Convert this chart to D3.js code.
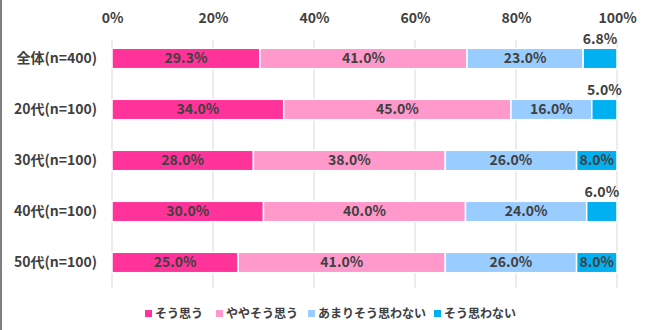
<!DOCTYPE html>
<html><head><meta charset="utf-8">
<script src="https://cdn.jsdelivr.net/npm/d3@7"></script>
<style>
body{margin:0;background:#fff;}
svg text{font-family:"Noto Sans CJK JP","Noto Sans",sans-serif;font-weight:bold;fill:#404040;}
</style></head>
<body><svg id="c" width="650" height="330"></svg>
<script>
const categories = ["全体(n=400)","20代(n=100)","30代(n=100)","40代(n=100)","50代(n=100)"];
const seriesNames = ["そう思う","ややそう思う","あまりそう思わない","そう思わない"];
const soOmou = [29.3,34.0,28.0,30.0,25.0];
const yayaSoOmou = [41.0,45.0,38.0,40.0,41.0];
const amariSoOmowanai = [23.0,16.0,26.0,24.0,26.0];
const soOmowanai = [6.8,5.0,8.0,6.0,8.0];
const tickValues = [0,20,40,60,80,100];
const colors = ["#FF3399","#FF99CC","#99CCFF","#00B0F0"];

const series = [soOmou,yayaSoOmou,amariSoOmowanai,soOmowanai];
const svg = d3.select("#c");
const x = d3.scaleLinear().domain([0,100]).range([112,617]);
const y = d3.scaleBand().domain(categories).range([33,288]).paddingInner(0.6).paddingOuter(0.3);

// frame left border
svg.append("line").attr("x1",1).attr("x2",1).attr("y1",0).attr("y2",330).attr("stroke","#7f7f7f").attr("stroke-width",2);

// gridlines
svg.append("g").selectAll("line").data(tickValues).join("line")
  .attr("x1",d=>x(d)).attr("x2",d=>x(d)).attr("y1",40).attr("y2",288)
  .attr("stroke","#d9d9d9").attr("stroke-width",1);

// axis labels
const ax = svg.append("g").attr("transform","translate(0,18)")
  .call(d3.axisTop(x).tickValues(tickValues).tickFormat(d=>d+"%").tickSize(0).tickPadding(0));
ax.select(".domain").remove();
ax.selectAll("text").attr("font-size",14).attr("dy","0.35em").attr("y",0);

// category labels
svg.append("g").selectAll("text").data(categories).join("text")
  .attr("x",97).attr("y",d=>y(d)+y.bandwidth()/2).attr("dy","0.35em")
  .attr("text-anchor","end").attr("font-size",14).text(d=>d);

// stacks
categories.forEach((cat,i)=>{
  let cum=0;
  series.forEach((s,k)=>{
    const v=s[i];
    const x0=x(cum), x1=x(Math.min(cum+v,100));
    svg.append("rect").attr("x",x0).attr("y",y(cat)).attr("width",Math.max(0,x1-x0)).attr("height",y.bandwidth())
      .attr("fill",colors[k]).attr("stroke","#fff").attr("stroke-width",1.5);
    const cx=(x0+x1)/2;
    const t=svg.append("text").attr("font-size",14).attr("text-anchor","middle").text(v.toFixed(1)+"%");
    if(v<7.5){ t.attr("x",cx).attr("y",y(cat)-4); }
    else { t.attr("x",cx).attr("y",y(cat)+y.bandwidth()/2).attr("dy","0.35em"); }
    cum+=v;
  });
});

// legend
const legX=[145,216,308,434];
const lg=svg.append("g");
seriesNames.forEach((n,k)=>{
  lg.append("rect").attr("x",legX[k]).attr("y",310).attr("width",7).attr("height",7).attr("fill",colors[k]);
  lg.append("text").attr("x",legX[k]+10).attr("y",313.5).attr("dy","0.35em").attr("font-size",12).text(n);
});
</script></body></html>
